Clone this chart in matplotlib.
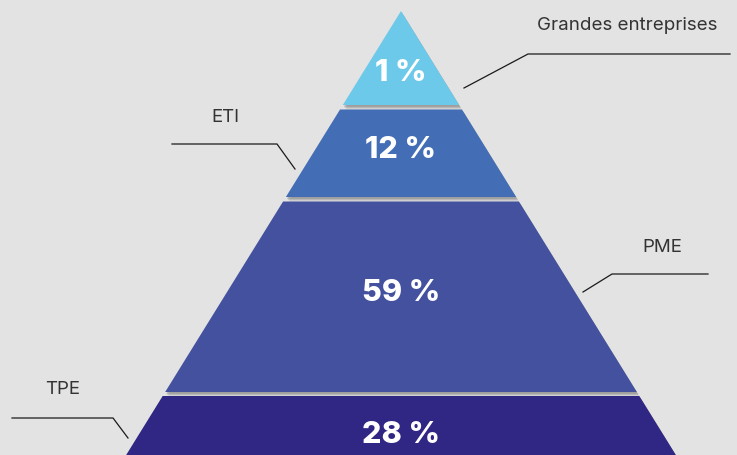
import matplotlib.pyplot as plt
from matplotlib.patches import Polygon

# data
categories = ["Grandes entreprises", "ETI", "PME", "TPE"]
shares = [1, 12, 59, 28]
colors = ["#6dc9ea", "#436db5", "#43519e", "#302683"]

# layout (pixel coords, y down)
W, H = 737, 455
apex_x, apex_y = 401, 11
slope = 0.619
layer_tops = [11, 109.5, 201.5, 396]
layer_bots = [105, 197, 392, 470]
text_y = [73, 150, 293, 435]
label_pos = [(627, 25), (225, 117), (662, 247), (63, 389)]
leaders = [
    [(464, 88), (528, 54), (730, 54)],
    [(172, 144), (277, 144), (295, 169)],
    [(583, 292), (612, 274), (708, 274)],
    [(12, 418), (113, 418), (128, 438)],
]

fig = plt.figure(figsize=(W / 100, H / 100), dpi=100)
fig.patch.set_facecolor("#e3e3e3")
ax = fig.add_axes([0, 0, 1, 1])
ax.set_xlim(0, W)
ax.set_ylim(H, 0)
ax.axis("off")


def half(y):
    return max(0, y - apex_y) * slope


for i in range(len(categories)):
    t, b = layer_tops[i], layer_bots[i]
    ht, hb = half(t), half(b)
    pts = [(apex_x - ht, t), (apex_x + ht, t), (apex_x + hb, b), (apex_x - hb, b)]
    # soft shadow under/right of each slice
    for off, a in [(4.5, 0.2), (3, 0.3), (1.8, 0.45)]:
        sh = [(x + off * 0.6, y + off) for x, y in pts]
        ax.add_patch(Polygon(sh, closed=True, facecolor="#808080", alpha=a,
                             edgecolor="none", zorder=1))
    ax.add_patch(Polygon(pts, closed=True, facecolor=colors[i],
                         edgecolor="none", zorder=2))
    ax.text(apex_x, text_y[i], f"{shares[i]} %", color="white", fontsize=22,
            fontweight="heavy", family=["Inter", "DejaVu Sans"],
            ha="center", va="center", zorder=3)

for i, name in enumerate(categories):
    lx, ly = label_pos[i]
    ax.text(lx, ly, name, color="#333333", fontsize=13.5,
            family=["Inter", "DejaVu Sans"], ha="center", va="center")
    xs = [p[0] for p in leaders[i]]
    ys = [p[1] for p in leaders[i]]
    ax.plot(xs, ys, color="#1a1a1a", lw=0.9, solid_joinstyle="miter")

fig.savefig("out.png", dpi=100, facecolor=fig.get_facecolor())
